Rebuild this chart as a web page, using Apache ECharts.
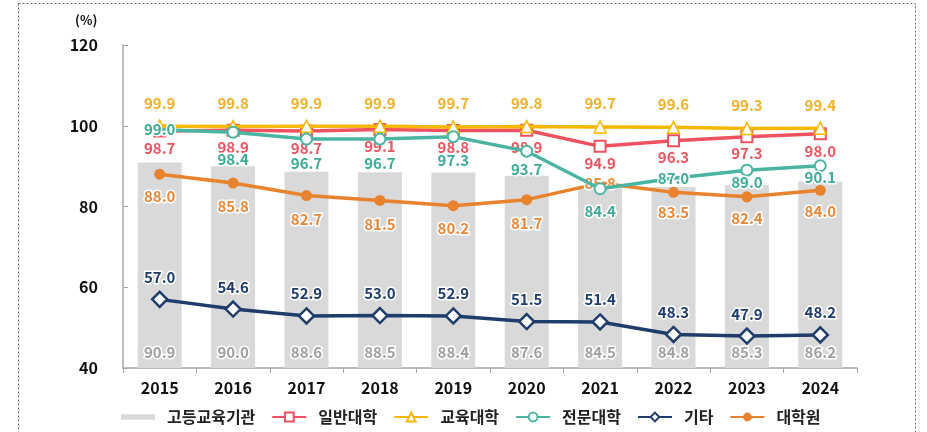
<!DOCTYPE html>
<html>
<head>
<meta charset="utf-8">
<script src="https://cdn.jsdelivr.net/npm/echarts@6/dist/echarts.min.js"></script>
<style>
  html, body { margin: 0; padding: 0; background: #fff; }
  #chart { width: 927px; height: 432px; }
</style>
</head>
<body>
<div id="chart"></div>
<script>
const years = ['2015', '2016', '2017', '2018', '2019', '2020', '2021', '2022', '2023', '2024'];
const higherEdu = [90.9, 90.0, 88.6, 88.5, 88.4, 87.6, 84.5, 84.8, 85.3, 86.2];
const university = [98.7, 98.9, 98.7, 99.1, 98.8, 98.9, 94.9, 96.3, 97.3, 98.0];
const eduUniversity = [99.9, 99.8, 99.9, 99.9, 99.7, 99.8, 99.7, 99.6, 99.3, 99.4];
const juniorCollege = [99.0, 98.4, 96.7, 96.7, 97.3, 93.7, 84.4, 87.0, 89.0, 90.1];
const others = [57.0, 54.6, 52.9, 53.0, 52.9, 51.5, 51.4, 48.3, 47.9, 48.2];
const graduate = [88.0, 85.8, 82.7, 81.5, 80.2, 81.7, 85.8, 83.5, 82.4, 84.0];

// label gaps under the point; null = label sits on the marker
const juniorGaps = [null, 13, 10, 10, 10, 4, 9, null, -2, -2];
const graduateGaps = [9, 10, 11, 11, 10, 11, null, 7, 8, 8];

const FONT = "'Noto Sans CJK KR', 'Noto Sans', sans-serif";

function labelled(values, gaps) {
  return values.map((v, i) => {
    if (gaps[i] === null) {
      return {
        value: v,
        itemStyle: { color: 'rgba(0,0,0,0)', borderColor: 'rgba(0,0,0,0)' },
        label: { position: 'inside' }
      };
    }
    return { value: v, label: { distance: gaps[i] } };
  });
}

function valueLabel(color, position, distance) {
  return {
    show: true,
    position,
    distance,
    color,
    fontSize: 15,
    fontWeight: 'bold',
    fontFamily: FONT,
    textBorderColor: '#fff',
    textBorderWidth: 3,
    formatter: (p) => Number(p.value).toFixed(1)
  };
}

const chart = echarts.init(document.getElementById('chart'), null, { renderer: 'canvas' });

chart.setOption({
  animation: false,
  backgroundColor: '#fff',
  textStyle: { fontFamily: FONT },
  grid: { left: 123, right: 70, top: 45, bottom: 64 },
  graphic: [
    {
      type: 'rect',
      shape: { x: 18.5, y: 3.5, width: 897, height: 440 },
      style: { fill: 'none', stroke: '#666', lineWidth: 1, lineDash: [2, 2] },
      silent: true
    },
    {
      type: 'text',
      left: 75,
      top: 14,
      style: { text: '(%)', fontSize: 13, fontWeight: 'bold', fill: '#111', fontFamily: FONT }
    }
  ],
  legend: {
    left: 116,
    top: 404,
    itemWidth: 34,
    itemHeight: 11,
    itemGap: 16,
    formatter: (name) => '{t|' + name + '}',
    textStyle: {
      rich: {
        t: { fontSize: 16, fontWeight: 'bold', color: '#222', fontFamily: FONT, padding: [0, 0, 0, 7] }
      }
    },
    data: [
      { name: '고등교육기관', icon: 'path://M0,0h32v5H0z' },
      '일반대학', '교육대학', '전문대학', '기타', '대학원'
    ]
  },
  xAxis: {
    type: 'category',
    data: years,
    axisLine: { lineStyle: { color: '#a6a6a6', width: 1.5 } },
    axisTick: { show: true, length: 5, lineStyle: { color: '#a6a6a6' } },
    axisLabel: { color: '#111', fontSize: 16, fontWeight: 'bold', margin: 12, fontFamily: FONT }
  },
  yAxis: {
    type: 'value',
    min: 40,
    max: 120,
    interval: 20,
    axisLine: { show: true, lineStyle: { color: '#a6a6a6', width: 1.5 } },
    axisTick: { show: true, inside: true, length: 5, lineStyle: { color: '#a6a6a6' } },
    splitLine: { show: false },
    axisLabel: { color: '#111', fontSize: 16, fontWeight: 'bold', margin: 25, fontFamily: FONT }
  },
  series: [
    {
      name: '고등교육기관',
      type: 'bar',
      data: higherEdu,
      barWidth: 44,
      itemStyle: { color: '#d9d9d9' },
      label: valueLabel('#a0a0a0', 'insideBottom', 8),
      z: 1
    },
    {
      name: '대학원',
      type: 'line',
      data: labelled(graduate, graduateGaps),
      symbol: 'circle',
      symbolSize: 11,
      lineStyle: { color: '#e8822c', width: 3.5 },
      itemStyle: { color: '#e8822c' },
      label: valueLabel('#e8893a', 'bottom', 10),
      z: 3
    },
    {
      name: '기타',
      type: 'line',
      data: others,
      symbol: 'diamond',
      symbolSize: 15,
      lineStyle: { color: '#1f3d6b', width: 3.5 },
      itemStyle: { color: '#fff', borderColor: '#1f3d6b', borderWidth: 2.5 },
      label: valueLabel('#1f3d6b', 'top', 6),
      z: 3
    },
    {
      name: '일반대학',
      type: 'line',
      data: university,
      symbol: 'rect',
      symbolSize: 11,
      lineStyle: { color: '#ef5160', width: 3.5 },
      itemStyle: { color: '#fff', borderColor: '#ef5160', borderWidth: 2 },
      label: valueLabel('#ea5763', 'bottom', 3),
      z: 5
    },
    {
      name: '교육대학',
      type: 'line',
      data: eduUniversity,
      symbol: 'triangle',
      symbolSize: 12,
      lineStyle: { color: '#f5b700', width: 3.5 },
      itemStyle: { color: '#fff', borderColor: '#f5b700', borderWidth: 1.5 },
      label: valueLabel('#f0b22c', 'top', 9),
      z: 6
    },
    {
      name: '전문대학',
      type: 'line',
      data: labelled(juniorCollege, juniorGaps),
      symbol: 'circle',
      symbolSize: 11,
      lineStyle: { color: '#4bb5a2', width: 3.5 },
      itemStyle: { color: '#fff', borderColor: '#4bb5a2', borderWidth: 2 },
      label: valueLabel('#3eab98', 'bottom', 10),
      z: 7
    }
  ]
});
</script>
</body>
</html>
